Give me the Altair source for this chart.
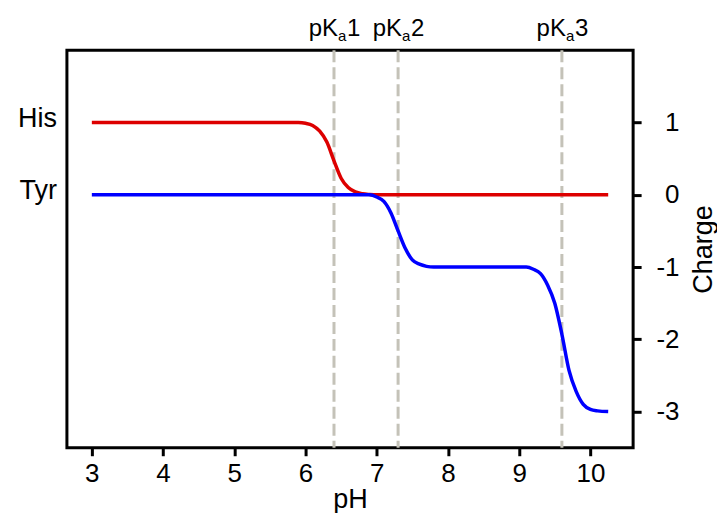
import altair as alt
import pandas as pd

# His charge curve
his_ph = [3.0, 5.9, 6.0, 6.1, 6.2, 6.3, 6.4, 6.5, 6.6, 6.7, 6.8, 6.9, 7.0, 10.25]
his_charge = [1.0, 1.0, 0.99, 0.96, 0.88, 0.73, 0.47, 0.23, 0.10, 0.04, 0.015, 0.005, 0.0, 0.0]

# Tyr charge curve
tyr_ph = [3.0, 6.9, 7.0, 7.1, 7.2, 7.3, 7.4, 7.5, 7.6, 7.7, 7.8, 9.1, 9.2, 9.3,
          9.4, 9.5, 9.6, 9.7, 9.8, 9.9, 10.0, 10.1, 10.25]
tyr_charge = [0.0, 0.0, -0.03, -0.09, -0.25, -0.5, -0.74, -0.9, -0.96, -0.99, -1.0,
              -1.0, -1.03, -1.09, -1.25, -1.5, -1.93, -2.43, -2.72, -2.9, -2.97, -2.99, -3.0]

# Left-side species labels
species_names = ["His", "Tyr"]
species_levels = [1, 0]

# pKa markers
pka_values = [6.4, 7.3, 9.6]
pka_digits = ["1", "2", "3"]

x_ticks = [3, 4, 5, 6, 7, 8, 9, 10]
y_ticks = [1, 0, -1, -2, -3]

FONT = "Liberation Sans"

curves = pd.DataFrame(
    {"pH": his_ph + tyr_ph,
     "charge": his_charge + tyr_charge,
     "species": ["His"] * len(his_ph) + ["Tyr"] * len(tyr_ph)}
)
labels = pd.DataFrame({"name": species_names, "level": species_levels})
pka = pd.DataFrame({"pka": pka_values, "digit": pka_digits})

x_scale = alt.Scale(domain=[2.65, 10.6], nice=False, zero=False)
y_scale = alt.Scale(domain=[-3.5, 2.0], nice=False, zero=False)

lines = alt.Chart(curves).mark_line(strokeWidth=3.5, interpolate="monotone").encode(
    x=alt.X("pH:Q", scale=x_scale,
            axis=alt.Axis(values=x_ticks, labelExpr="'' + datum.value", title="pH",
                          grid=False, domain=False,
                          tickSize=8, tickWidth=3, tickColor="black",
                          labelFontSize=26, labelColor="black", labelFont=FONT,
                          labelPadding=5, titleFontSize=27, titleFont=FONT,
                          titleFontWeight="normal", titleColor="black",
                          titleBaseline="alphabetic", titleY=60)),
    y=alt.Y("charge:Q", scale=y_scale,
            axis=alt.Axis(orient="right", values=y_ticks, labelExpr="'' + datum.value",
                          title="Charge",
                          grid=False, domain=False, tickSize=8, tickWidth=3,
                          tickColor="black", labelFontSize=26, labelColor="black",
                          labelFont=FONT, labelAlign="right", labelBaseline="middle",
                          labelPadding=38, titleFontSize=27, titleFont=FONT,
                          titleFontWeight="normal", titleColor="black", titleAngle=270,
                          titleX=78, titleY=199, titleAlign="center",
                          titleBaseline="alphabetic")),
    color=alt.Color("species:N",
                    scale=alt.Scale(domain=["His", "Tyr"], range=["#DD0000", "#0000FF"]),
                    legend=None),
    detail="species:N",
)

rules = alt.Chart(pka).mark_rule(color="#C4C2B8", strokeWidth=3, strokeDash=[12, 5]).encode(
    x=alt.X("pka:Q", scale=x_scale)
)

species_text = alt.Chart(labels).mark_text(
    align="right", baseline="alphabetic", fontSize=27, font=FONT, color="black", dy=4
).encode(
    x=alt.value(-10),
    y=alt.Y("level:Q", scale=y_scale, axis=None),
    text="name:N",
)

pk_text = alt.Chart(pka).mark_text(
    align="right", baseline="alphabetic", fontSize=24, font=FONT, color="black", dx=4
).encode(x=alt.X("pka:Q", scale=x_scale), y=alt.value(-14), text=alt.value("pK"))

a_text = alt.Chart(pka).mark_text(
    align="left", baseline="alphabetic", fontSize=15, font=FONT, color="black", dx=4
).encode(x=alt.X("pka:Q", scale=x_scale), y=alt.value(-9), text=alt.value("a"))

d_text = alt.Chart(pka).mark_text(
    align="left", baseline="alphabetic", fontSize=24, font=FONT, color="black", dx=13
).encode(x=alt.X("pka:Q", scale=x_scale), y=alt.value(-14), text="digit:N")

chart = alt.layer(rules, lines, species_text, pk_text, a_text, d_text).resolve_axis(
    y="independent"
).properties(
    width=567,
    height=398,
    autosize=alt.AutoSizeParams(type="none"),
    padding={"left": 59, "top": 42, "right": 84, "bottom": 65},
    background="white",
).configure_view(
    stroke="black", strokeWidth=3
)

chart.save("out.html", embed_options={"renderer": "svg", "actions": False})
